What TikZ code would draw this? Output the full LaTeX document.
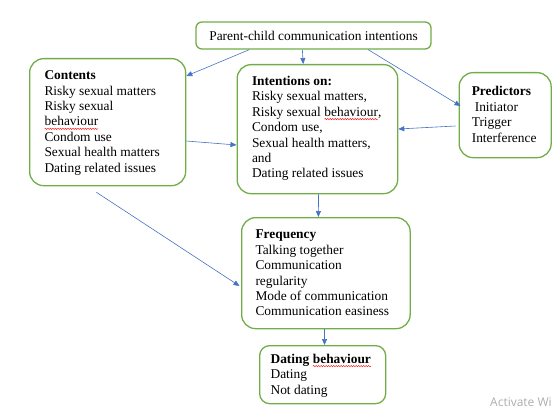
\documentclass[tikz,border=0pt]{standalone}
\usepackage{fontspec}
\setmainfont{Liberation Serif}
\newfontfamily\wmfont{Open Sans}
\usetikzlibrary{arrows.meta,decorations.pathmorphing}
\definecolor{boxgreen}{HTML}{70AD47}
\definecolor{arrblue}{HTML}{4472C4}
\newcommand\spellmark[1]{\tikz[baseline=(sw.base),x=1pt,y=1pt]{\node[inner sep=0pt,outer sep=0pt,anchor=base] (sw) {#1};\draw[red,line width=0.4pt,decorate,decoration={snake,amplitude=0.7pt,segment length=2.5pt}] ([yshift=-2.8pt]sw.base west) -- ([yshift=-2.8pt]sw.base east);}}
\begin{document}
\begin{tikzpicture}[x=1pt,y=-1pt,
  box/.style={draw=boxgreen,line width=1.3pt,rounded corners=14pt,anchor=north west,inner sep=0pt},
  txt/.style={align=left,anchor=west,inner sep=0pt,font=\fontsize{13.4}{15.4}\selectfont},
  conn/.style={draw=arrblue,line width=0.6pt,-{Triangle[length=6pt,width=5pt]}}]
\useasboundingbox (0,0) rectangle (556,409);
% boxes
\node[box,rounded corners=6pt,minimum width=235pt,minimum height=27pt,anchor=center,font=\fontsize{13.4}{15.4}\selectfont] (top) at (313.5,35.5) {Parent-child communication intentions};
\node[box,minimum width=156pt,minimum height=127pt] (contents) at (29,58) {};
\node[box,minimum width=160.5pt,minimum height=129pt] (intent) at (236.5,64) {};
\node[box,minimum width=92pt,minimum height=85pt] (pred) at (458.5,72) {};
\node[box,minimum width=168.5pt,minimum height=111pt] (freq) at (241,217) {};
\node[box,rounded corners=10pt,minimum width=126pt,minimum height=58pt] (dating) at (259,345) {};
% texts
\node[txt] (contentsT) at (44.3,123) {\textbf{Contents}\\Risky sexual matters\\Risky sexual\\\spellmark{behaviour}\\Condom use\\Sexual health matters\\Dating related issues};
\node[txt] (intentT) at (251.8,128.5) {\textbf{Intentions on:}\\Risky sexual matters,\\Risky sexual \spellmark{behaviour},\\Condom use,\\Sexual health matters,\\and\\Dating related issues};
\node[txt] (predT) at (471.6,114.5) {\textbf{Predictors}\\\hspace*{3pt}Initiator\\Trigger\\Interference};
\node[txt] (freqT) at (255.3,273) {\textbf{Frequency}\\Talking together\\Communication\\regularity\\Mode of communication\\Communication easiness};
\node[txt] (datingT) at (270.4,375.5) {\textbf{Dating \spellmark{behaviour}}\\Dating\\Not dating};
% connectors
\draw[conn] ([xshift=54pt]top.south west) -- ([yshift=-18pt]contents.north east);
\draw[conn] ([xshift=107pt]top.south west) -- ([xshift=66.7pt]intent.north west);
\draw[conn] ([xshift=172.8pt]top.south west) -- ([xshift=2pt,yshift=-34pt]pred.north west);
\draw[conn] ([xshift=-3pt,yshift=-54pt]pred.north west) -- ([yshift=-65pt]intent.north east);
\draw[conn] ([yshift=-83pt]contents.north east) -- ([yshift=-81pt]intent.north west);
\draw[conn] ([xshift=67.4pt,yshift=-6pt]contents.south west) -- ([xshift=-1.5pt,yshift=-69pt]freq.north west);
\draw[conn] ([xshift=82pt]intent.south west) -- ([xshift=77.4pt]freq.north west);
\draw[conn] ([xshift=83.5pt]freq.south west) -- ([xshift=65.5pt]dating.north west);
% watermark
\node[anchor=west,inner sep=0pt,text=black!32,font=\wmfont\fontsize{12}{14}\selectfont] (wm) at (490,402) {Activate Wi};
\end{tikzpicture}
\end{document}
